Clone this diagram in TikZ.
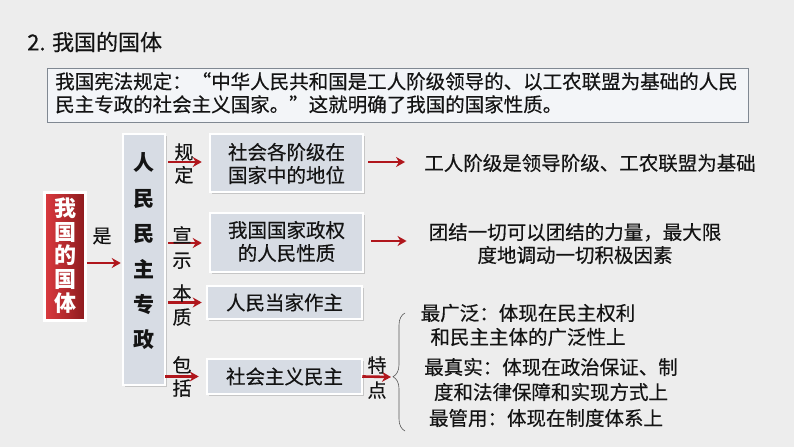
\documentclass[tikz,border=0pt]{standalone}
\usepackage{fontspec}
\setmainfont{Noto Sans CJK SC}[UprightFeatures={FakeBold=0.4}]
\usetikzlibrary{shadows,arrows.meta,decorations.pathreplacing,calc}
\definecolor{bg}{HTML}{EDEDED}
\definecolor{boxfill}{HTML}{D7DCE4}
\definecolor{arrred}{HTML}{B0161C}
\definecolor{quotefill}{HTML}{F3F5F8}
\definecolor{quoteline}{HTML}{808892}
\definecolor{redA}{HTML}{DB3A3F}
\definecolor{redB}{HTML}{8C1A1D}
\definecolor{txt}{HTML}{141414}
\tikzset{
  bluebox/.style={fill=boxfill, draw=white, line width=2.5pt, inner sep=0pt,
    drop shadow={shadow xshift=1.5pt, shadow yshift=-1.5pt, opacity=0.35}},
  redbox/.style={left color=redA, right color=redB, draw=white, line width=2.5pt, inner sep=0pt,
    drop shadow={shadow xshift=1.5pt, shadow yshift=-1.5pt, opacity=0.35}},
  arr/.style={draw=arrred, line width=2.6pt, -{Stealth[length=9pt,width=10pt]}},
  boxtext/.style={font=\fontsize{19.5}{23}\selectfont, text=txt, align=center, inner sep=0pt},
  lbl/.style={font=\fontsize{19}{23}\selectfont, text=txt, align=center, inner sep=0pt},
  plain/.style={font=\fontsize{19.5}{23.5}\selectfont, text=txt, inner sep=0pt},
}
\begin{document}
\begin{tikzpicture}[x=1pt,y=-1pt]
\fill[bg] (0,0) rectangle (794,447);
\useasboundingbox (0,0) rectangle (794,447);

% title
\node[anchor=west, inner sep=0pt, font=\fontsize{22}{26}\selectfont, text=txt] (title) at (27,42) {2. 我国的国体};

% quote box
\node[draw=quoteline, fill=quotefill, line width=1pt, minimum width=701pt, minimum height=54pt, inner sep=0pt] (quote) at (397.5,95) {};
\node[plain, anchor=north west, align=left, font=\fontsize{19.5}{23}\selectfont] (quotetext) at (55,72)
  {我国宪法规定：“中华人民共和国是工人阶级领导的、以工农联盟为基础的人民\\民主专政的社会主义国家。”这就明确了我国的国家性质。};

% red box
\node[redbox, minimum width=41pt, minimum height=128pt] (guoti) at (65,256.5) {};
\node[inner sep=0pt, align=center, text=white, font=\bfseries\fontsize{22}{23.7}\selectfont] (guotitext) at (65,255.5) {我\\国\\的\\国\\体};

% vertical box
\node[bluebox, minimum width=42pt, minimum height=251pt] (vbox) at (144,259.5) {};
\node[inner sep=0pt, align=center, text=txt, font=\bfseries\fontsize{21}{35.4}\selectfont] (vtext) at (144,251.5) {人\\民\\民\\主\\专\\政};

% four boxes
\node[bluebox, minimum width=153pt, minimum height=58pt] (b1) at (286.5,163) {};
\node[boxtext] (b1t) at (286.5,163.5) {社会各阶级在\\国家中的地位};
\node[bluebox, minimum width=153pt, minimum height=59pt] (b2) at (286.5,242.5) {};
\node[boxtext] (b2t) at (286.5,241.5) {我国国家政权\\的人民性质};
\node[bluebox, minimum width=155pt, minimum height=33pt] (b3) at (284.5,302.5) {};
\node[boxtext] (b3t) at (284.5,302.5) {人民当家作主};
\node[bluebox, minimum width=155pt, minimum height=35pt] (b4) at (284.5,376.5) {};
\node[boxtext] (b4t) at (284.5,376.5) {社会主义民主};

% arrows and labels from red box
\draw[arr, shorten >=1pt] ([yshift=-6.5pt]guoti.east) -- ([yshift=-6.5pt]guoti.east -| vbox.west);
\node[lbl] (shi) at (102,236) {是};

% arrows from vbox
\draw[arr, shorten <=2pt, shorten >=7pt] ([yshift=1pt]vbox.east |- b1.west) -- ([yshift=1pt]b1.west);
\node[lbl, font=\fontsize{19}{23}\selectfont] (l1) at (184,163.5) {规\\定};
\draw[arr, shorten <=2pt, shorten >=7pt] ([yshift=-0.5pt]vbox.east |- b2.west) -- ([yshift=-0.5pt]b2.west);
\node[lbl, font=\fontsize{19}{25}\selectfont] (l2) at (182,247.5) {宣\\示};
\draw[arr, shorten <=2pt, shorten >=4pt] (vbox.east |- b3.west) -- (b3.west);
\node[lbl, font=\fontsize{19}{24}\selectfont] (l3) at (182,305) {本\\质};
\draw[arr, shorten <=-1pt, shorten >=7pt] (vbox.east |- b4.west) -- (b4.west);
\node[lbl, font=\fontsize{19}{23}\selectfont] (l4) at (182,376.5) {包\\括};

% right side texts
\node[plain] (r1) at (590,163) {工人阶级是领导阶级、工农联盟为基础};
\draw[arr, shorten <=4pt, shorten >=19pt] ([yshift=1pt]b1.east) -- ([yshift=1pt]b1.east -| r1.west);
\node[plain, align=center, font=\fontsize{19.5}{23}\selectfont] (r2) at (575,243.5) {团结一切可以团结的力量，最大限\\度地调动一切积极因素};
\draw[arr, shorten <=7pt, shorten >=22pt] ([yshift=1.5pt]b2.east) -- ([yshift=1.5pt]b2.east -| r2.west);

% brace and features
\coordinate (bracetop) at (405,313);
\coordinate (bracebot) at (405,431);
\coordinate (bracetip) at (391,377);
\draw[decorate, decoration={brace, amplitude=12pt, aspect=0.46}, draw=black!65, line width=0.6pt] (bracebot) -- (bracetop);
\draw[arr, shorten <=-1pt] (b4.east) -- (bracetip);
\node[lbl, font=\fontsize{19}{25}\selectfont] (l5) at (377,377.5) {特\\点};

\node[plain, align=center, font=\fontsize{19.5}{24}\selectfont] (f1) at (528,325) {最广泛：体现在民主权利\\和民主主体的广泛性上};
\node[plain, align=center, font=\fontsize{19.5}{25}\selectfont] (f2) at (551,379.5) {最真实：体现在政治保证、制\\度和法律保障和实现方式上};
\node[plain] (f3) at (546,418) {最管用：体现在制度体系上};
\end{tikzpicture}
\end{document}
